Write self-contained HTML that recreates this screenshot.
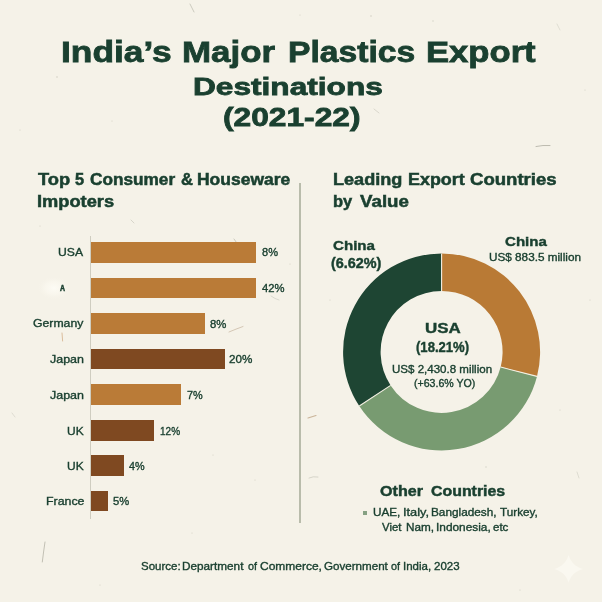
<!DOCTYPE html>
<html lang="en"><head><meta charset="utf-8"><title>India’s Major Plastics Export Destinations (2021-22)</title>
<style>
html,body{margin:0;padding:0}
body{width:602px;height:602px;overflow:hidden;background:#f5f2e8;position:relative;font-family:'Liberation Sans', sans-serif;color:#1a4030}
.t{position:absolute;left:0;width:602px;height:0;white-space:nowrap;line-height:1}
.t span{position:absolute;top:0;transform-origin:0 0;white-space:nowrap}
.b{position:absolute;left:91px}
.ax{position:absolute;left:90px;top:236px;width:1.2px;height:283px;background:#cfcdc0}
.dv{position:absolute;left:299px;top:183px;width:1.8px;height:340px;background:#b9bcab}
.bul{position:absolute;left:363.3px;top:510.8px;width:4.2px;height:4.2px;background:#86a183}
.donut{position:absolute;left:0;top:0}
</style></head>
<body>
<svg class="donut" width="602" height="602" viewBox="0 0 602 602">
<defs><radialGradient id="glow"><stop offset="0" stop-color="#fffef8" stop-opacity=".8"/><stop offset=".55" stop-color="#fdfbf3" stop-opacity=".45"/><stop offset="1" stop-color="#f5f2e8" stop-opacity="0"/></radialGradient></defs>
<g fill="none" stroke-linecap="round">
<path d="M45,542 Q43.5,552 42.3,562" stroke="#a9a79a" stroke-width="0.9" opacity=".75"/>
<path d="M62,333 L62.6,341" stroke="#cfa57a" stroke-width="1" opacity=".7"/>
<path d="M229,332 Q236,329 243,326.5" stroke="#b9a48a" stroke-width="0.8" opacity=".7"/>
<path d="M234,239 L236.5,242.5" stroke="#a7a89b" stroke-width="0.8" opacity=".7"/>
<path d="M131,220 L134,223" stroke="#b5b5a8" stroke-width="0.8" opacity=".6"/>
<path d="M190,4 Q192,8 194,12" stroke="#b3b2a5" stroke-width="0.9" opacity=".7"/>
<path d="M536,146.5 Q543,145 550,145.5" stroke="#9c9b8e" stroke-width="0.9" opacity=".7"/>
<path d="M374,109 L379,113" stroke="#c4c2b5" stroke-width="0.8" opacity=".7"/>
<path d="M308,418 L316,415.5" stroke="#b89a78" stroke-width="1.1" opacity=".7"/>
<path d="M309,478 Q313,476 318,477" stroke="#c9c8bc" stroke-width="1" opacity=".7"/>
<path d="M271,296 Q275,299 279,300" stroke="#cfcec3" stroke-width="1" opacity=".7"/>
<path d="M577,472 L579,478" stroke="#c5c4b8" stroke-width="0.8" opacity=".6"/>
<path d="M12,413 L15,417" stroke="#c6c5b9" stroke-width="0.8" opacity=".6"/>
<path d="M557,24 L560,30" stroke="#c9c8bc" stroke-width="0.8" opacity=".6"/>
</g>
<g fill="#b4b3a6" opacity=".55">
<circle cx="371" cy="16" r=".8"/><circle cx="433" cy="21" r=".7"/><circle cx="57" cy="77" r=".8"/><circle cx="112" cy="121" r=".6"/>
<circle cx="236" cy="181" r=".6"/><circle cx="40" cy="226" r=".6"/><circle cx="290" cy="264" r=".6"/><circle cx="246" cy="248" r=".7"/>
<circle cx="213" cy="455" r=".6"/><circle cx="255" cy="480" r=".6"/><circle cx="192" cy="533" r=".6"/><circle cx="486" cy="467" r=".7"/>
<circle cx="560" cy="410" r=".6"/><circle cx="330" cy="300" r=".6"/><circle cx="590" cy="300" r=".6"/><circle cx="520" cy="590" r=".6"/>
<circle cx="100" cy="585" r=".6"/><circle cx="20" cy="130" r=".6"/><circle cx="585" cy="90" r=".6"/><circle cx="300" cy="15" r=".6"/>
</g>
<ellipse cx="54" cy="288" rx="17" ry="12" fill="url(#glow)"/>
<path d="M441.60,253.40 A98.5,98.5 0 0 1 537.01,376.40 L500.68,367.07 A61.0,61.0 0 0 0 441.60,290.90 Z" fill="#b97a35"/>
<path d="M537.01,376.40 A98.5,98.5 0 0 1 359.27,405.98 L390.62,385.39 A61.0,61.0 0 0 0 500.68,367.07 Z" fill="#789b71"/>
<path d="M359.27,405.98 A98.5,98.5 0 0 1 441.60,253.40 L441.60,290.90 A61.0,61.0 0 0 0 390.62,385.39 Z" fill="#1e4533"/>
<g stroke="#f4f0e2" stroke-width="1.1" fill="none"><line x1="441.60" y1="290.90" x2="441.60" y2="253.40"/><line x1="500.68" y1="367.07" x2="537.01" y2="376.40"/><line x1="390.62" y1="385.39" x2="359.27" y2="405.98"/></g>
<path d="M568.6,555 C571,562.5 575,566.5 582.8,568.9 C575,571.3 571,575.3 568.6,582.6 C566.2,575.3 562.2,571.3 554.4,568.9 C562.2,566.5 566.2,562.5 568.6,555 Z" fill="#faf8f0"/>
</svg>
<div class="ax"></div><div class="dv"></div>
<div class="b" style="top:242.2px;width:165.2px;height:20.6px;background:#ba7b37"></div>
<div class="b" style="top:277.6px;width:165.2px;height:20.8px;background:#ba7b37"></div>
<div class="b" style="top:313.2px;width:114.0px;height:20.5px;background:#ba7b37"></div>
<div class="b" style="top:348.8px;width:134.1px;height:20.1px;background:#7f4921"></div>
<div class="b" style="top:384.2px;width:90.3px;height:20.7px;background:#ba7b37"></div>
<div class="b" style="top:420.1px;width:63.1px;height:20.5px;background:#7f4921"></div>
<div class="b" style="top:455.4px;width:32.6px;height:20.6px;background:#7f4921"></div>
<div class="b" style="top:491.1px;width:16.9px;height:20.2px;background:#7f4921"></div>
<div class="bul"></div>
<div class="t" style="top:37px;font-size:30.00px;font-weight:700;-webkit-text-stroke:0.8px #1a4030;"><span style="left:60.83px;transform:scaleX(1.1781)">India’s</span> <span style="left:181.95px;transform:scaleX(1.1643)">Major</span> <span style="left:287.82px;transform:scaleX(1.1225)">Plastics</span> <span style="left:425.77px;transform:scaleX(1.1540)">Export</span></div>
<div class="t" style="top:75px;font-size:24.78px;font-weight:700;-webkit-text-stroke:0.8px #1a4030;"><span style="left:193.40px;transform:scaleX(1.2770)">Destinations</span></div>
<div class="t" style="top:105px;font-size:25.65px;font-weight:700;-webkit-text-stroke:0.8px #1a4030;"><span style="left:222.66px;transform:scaleX(1.2366)">(2021-22)</span></div>
<div class="t" style="top:172px;font-size:15.94px;font-weight:700;-webkit-text-stroke:0.5px #1a4030;"><span style="left:37.50px;transform:scaleX(1.1495)">Top</span> <span style="left:75.34px;transform:scaleX(1.0235)">5</span> <span style="left:89.76px;transform:scaleX(1.0799)">Consumer</span> <span style="left:180.68px;transform:scaleX(1.0419)">&amp;</span> <span style="left:197.28px;transform:scaleX(1.0964)">Houseware</span></div>
<div class="t" style="top:194px;font-size:15.80px;font-weight:700;-webkit-text-stroke:0.5px #1a4030;"><span style="left:37.43px;transform:scaleX(1.1557)">Impoters</span></div>
<div class="t" style="top:172px;font-size:15.80px;font-weight:700;-webkit-text-stroke:0.5px #1a4030;"><span style="left:333.34px;transform:scaleX(1.1458)">Leading</span> <span style="left:408.35px;transform:scaleX(1.1330)">Export</span> <span style="left:469.71px;transform:scaleX(1.1753)">Countries</span></div>
<div class="t" style="top:194px;font-size:15.65px;font-weight:700;-webkit-text-stroke:0.5px #1a4030;"><span style="left:333.41px;transform:scaleX(1.0535)">by</span> <span style="left:360.20px;transform:scaleX(1.1975)">Value</span></div>
<div class="t" style="top:247px;font-size:11.38px;font-weight:400;-webkit-text-stroke:0.35px #1a4030;"><span style="left:57.80px;transform:scaleX(1.0681)">USA</span></div>
<div class="t" style="top:283px;font-size:9.71px;font-weight:700;-webkit-text-stroke:0.6px #1a4030;"><span style="left:59.50px;transform:scaleX(0.7143)">A</span></div>
<div class="t" style="top:318px;font-size:11.23px;font-weight:400;-webkit-text-stroke:0.35px #1a4030;"><span style="left:33.05px;transform:scaleX(1.0907)">Germany</span></div>
<div class="t" style="top:354px;font-size:11.23px;font-weight:400;-webkit-text-stroke:0.35px #1a4030;"><span style="left:50.20px;transform:scaleX(1.1100)">Japan</span></div>
<div class="t" style="top:390px;font-size:11.23px;font-weight:400;-webkit-text-stroke:0.35px #1a4030;"><span style="left:50.20px;transform:scaleX(1.1100)">Japan</span></div>
<div class="t" style="top:426px;font-size:11.23px;font-weight:400;-webkit-text-stroke:0.35px #1a4030;"><span style="left:67.20px;transform:scaleX(1.0667)">UK</span></div>
<div class="t" style="top:461px;font-size:11.23px;font-weight:400;-webkit-text-stroke:0.35px #1a4030;"><span style="left:67.20px;transform:scaleX(1.0667)">UK</span></div>
<div class="t" style="top:496px;font-size:11.23px;font-weight:400;-webkit-text-stroke:0.35px #1a4030;"><span style="left:45.67px;transform:scaleX(1.1022)">France</span></div>
<div class="t" style="top:247px;font-size:11.23px;font-weight:400;-webkit-text-stroke:0.35px #1a4030;"><span style="left:261.65px;transform:scaleX(0.9841)">8%</span></div>
<div class="t" style="top:283px;font-size:11.23px;font-weight:400;-webkit-text-stroke:0.35px #1a4030;"><span style="left:261.90px;transform:scaleX(1.0022)">42%</span></div>
<div class="t" style="top:319px;font-size:11.23px;font-weight:400;-webkit-text-stroke:0.35px #1a4030;"><span style="left:210.45px;transform:scaleX(1.0095)">8%</span></div>
<div class="t" style="top:354px;font-size:11.23px;font-weight:400;-webkit-text-stroke:0.35px #1a4030;"><span style="left:229.38px;transform:scaleX(1.0391)">20%</span></div>
<div class="t" style="top:390px;font-size:11.23px;font-weight:400;-webkit-text-stroke:0.35px #1a4030;"><span style="left:186.52px;transform:scaleX(0.9677)">7%</span></div>
<div class="t" style="top:426px;font-size:11.23px;font-weight:400;-webkit-text-stroke:0.35px #1a4030;"><span style="left:159.53px;transform:scaleX(0.8930)">12%</span></div>
<div class="t" style="top:461px;font-size:11.23px;font-weight:400;-webkit-text-stroke:0.35px #1a4030;"><span style="left:128.90px;transform:scaleX(0.9625)">4%</span></div>
<div class="t" style="top:496px;font-size:11.23px;font-weight:400;-webkit-text-stroke:0.35px #1a4030;"><span style="left:112.95px;transform:scaleX(0.9968)">5%</span></div>
<div class="t" style="top:239px;font-size:13.62px;font-weight:700;-webkit-text-stroke:0.4px #1a4030;"><span style="left:333.32px;transform:scaleX(1.1099)">China</span></div>
<div class="t" style="top:257px;font-size:13.77px;font-weight:700;-webkit-text-stroke:0.4px #1a4030;"><span style="left:330.88px;transform:scaleX(1.0455)">(6.62%)</span></div>
<div class="t" style="top:235px;font-size:13.48px;font-weight:700;-webkit-text-stroke:0.4px #1a4030;"><span style="left:504.72px;transform:scaleX(1.1200)">China</span></div>
<div class="t" style="top:252px;font-size:11.09px;font-weight:400;-webkit-text-stroke:0.35px #1a4030;"><span style="left:488.71px;transform:scaleX(1.0596)">US$ 883.5 million</span></div>
<div class="t" style="top:320px;font-size:15.22px;font-weight:700;-webkit-text-stroke:0.4px #1a4030;"><span style="left:424.66px;transform:scaleX(1.1136)">USA</span></div>
<div class="t" style="top:340px;font-size:14.49px;font-weight:700;-webkit-text-stroke:0.4px #1a4030;"><span style="left:416.05px;transform:scaleX(0.9039)">(18.21%)</span></div>
<div class="t" style="top:364px;font-size:10.80px;font-weight:400;-webkit-text-stroke:0.35px #1a4030;"><span style="left:392.20px;transform:scaleX(1.0688)">US$ 2,430.8 million</span></div>
<div class="t" style="top:378px;font-size:10.80px;font-weight:400;-webkit-text-stroke:0.35px #1a4030;"><span style="left:413.81px;transform:scaleX(0.9821)">(+63.6% YO)</span></div>
<div class="t" style="top:484px;font-size:14.57px;font-weight:700;-webkit-text-stroke:0.45px #1a4030;"><span style="left:380.15px;transform:scaleX(1.1059)">Other</span> <span style="left:430.85px;transform:scaleX(1.0910)">Countries</span></div>
<div class="t" style="top:507px;font-size:10.80px;font-weight:400;-webkit-text-stroke:0.35px #1a4030;"><span style="left:373.29px;transform:scaleX(1.0863)">UAE,</span> <span style="left:402.61px;transform:scaleX(1.1854)">Italy,</span> <span style="left:430.98px;transform:scaleX(1.0923)">Bangladesh,</span> <span style="left:499.80px;transform:scaleX(1.0853)">Turkey,</span></div>
<div class="t" style="top:522px;font-size:10.94px;font-weight:400;-webkit-text-stroke:0.35px #1a4030;"><span style="left:382.36px;transform:scaleX(1.0421)">Viet</span> <span style="left:405.69px;transform:scaleX(1.0735)">Nam,</span> <span style="left:435.59px;transform:scaleX(1.0837)">Indonesia,</span> <span style="left:492.54px;transform:scaleX(1.0526)">etc</span></div>
<div class="t" style="top:561px;font-size:11.38px;font-weight:400;-webkit-text-stroke:0.35px #1a4030;"><span style="left:140.95px;transform:scaleX(1.0105)">Source:</span> <span style="left:182.23px;transform:scaleX(1.0332)">Department</span> <span style="left:247.76px;transform:scaleX(0.9474)">of</span> <span style="left:260.17px;transform:scaleX(1.0539)">Commerce,</span> <span style="left:323.59px;transform:scaleX(1.0201)">Government</span> <span style="left:390.76px;transform:scaleX(0.9474)">of</span> <span style="left:402.69px;transform:scaleX(1.0115)">India,</span> <span style="left:434.29px;transform:scaleX(1.0122)">2023</span></div>
</body></html>
